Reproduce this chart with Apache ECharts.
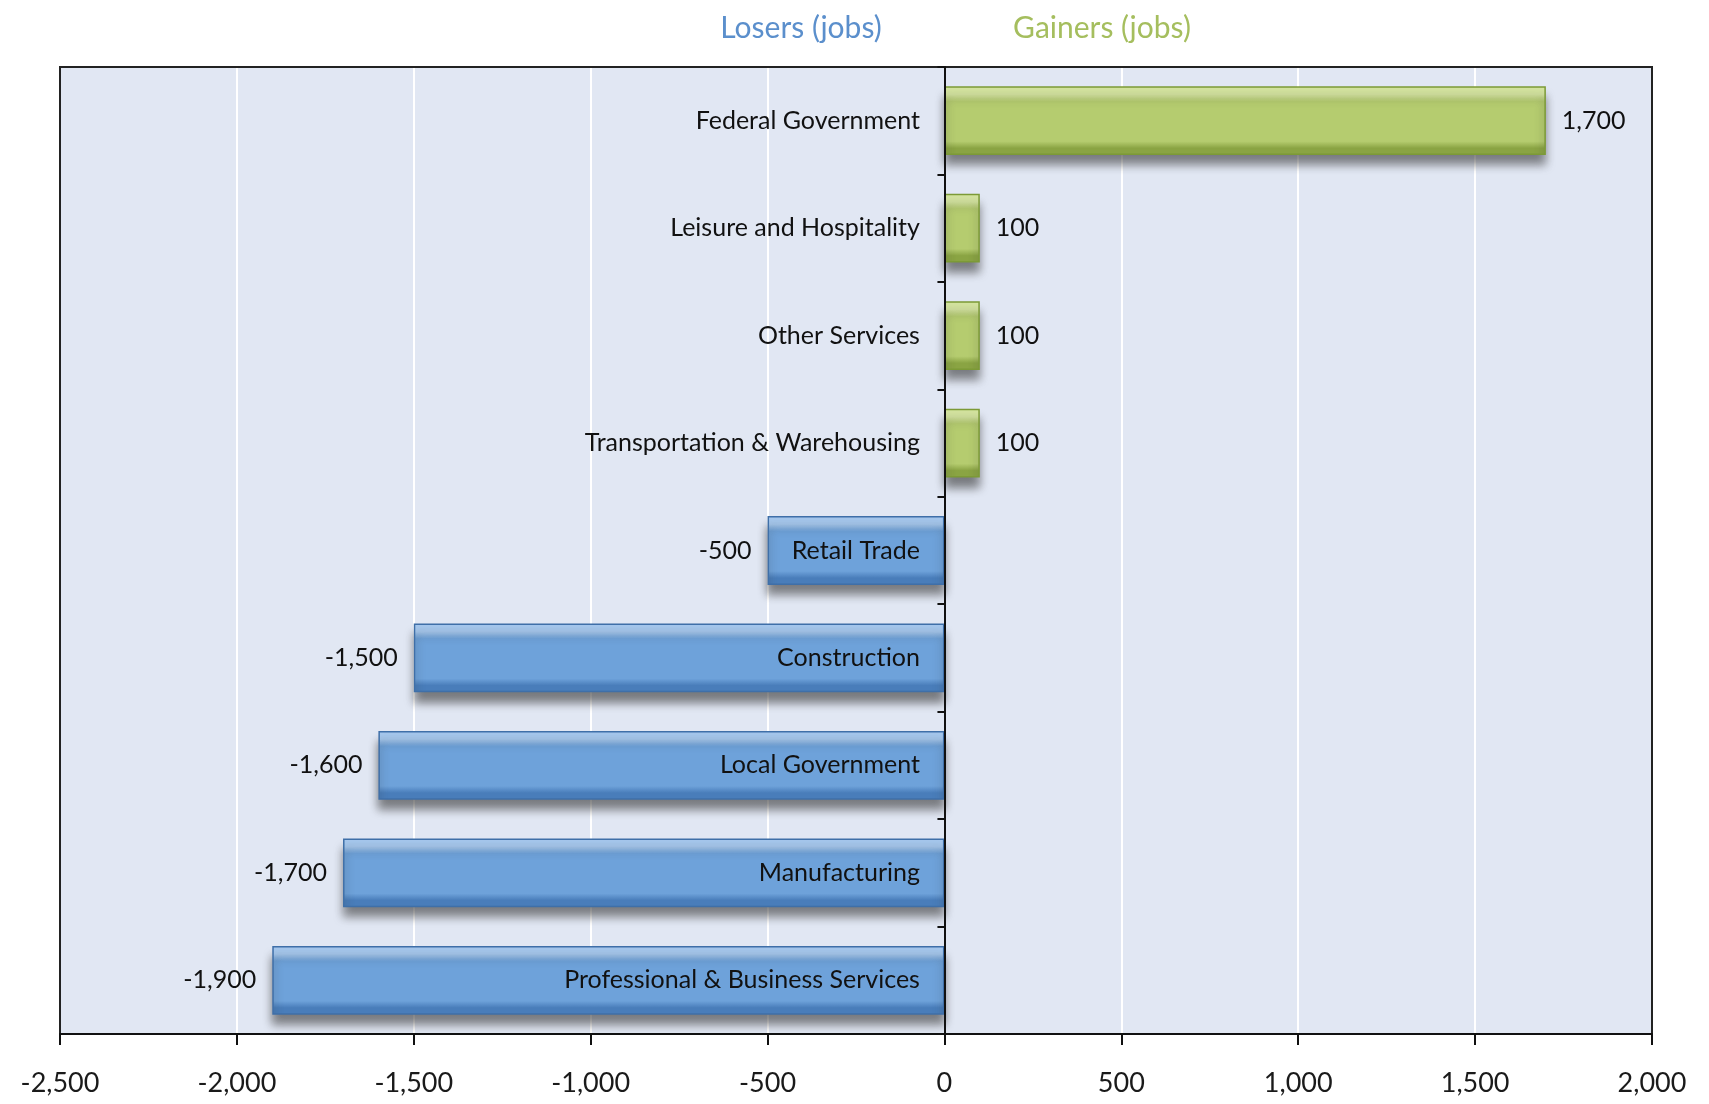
<!DOCTYPE html>
<html>
<head>
<meta charset="utf-8">
<script src="https://cdn.jsdelivr.net/npm/echarts@6/dist/echarts.min.js"></script>
<style>
html,body{margin:0;padding:0;background:#fff;}
#chart{width:1709px;height:1104px;}
</style>
</head>
<body>
<div id="chart"></div>
<script>
const categories = ["Federal Government","Leisure and Hospitality","Other Services","Transportation & Warehousing","Retail Trade","Construction","Local Government","Manufacturing","Professional & Business Services"];
const values = [1700, 100, 100, 100, -500, -1500, -1600, -1700, -1900];
const xTicks = {min: -2500, max: 2000, interval: 500};
const headerLosers = "Losers (jobs)";
const headerGainers = "Gainers (jobs)";

const FONT = 'Lato, "Open Sans", sans-serif';
const fmt = v => Number(v).toLocaleString('en-US');

function grad(top, mid, bottom) {
  return new echarts.graphic.LinearGradient(0, 0, 0, 1, [
    {offset: 0, color: top},
    {offset: 0.12, color: top},
    {offset: 0.22, color: mid},
    {offset: 0.8, color: mid},
    {offset: 0.9, color: bottom},
    {offset: 1, color: bottom}
  ]);
}
const greenStyle = {
  color: grad('#D5E5A0', '#B5CC6F', '#8AA443'),
  borderColor: '#7C9A36', borderWidth: 1.5,
  shadowColor: 'rgba(50,50,50,0.6)', shadowBlur: 9, shadowOffsetY: 10, shadowOffsetX: 0
};
const blueStyle = {
  color: grad('#A6C8EE', '#6EA2DA', '#497DBA'),
  borderColor: '#3F6FA8', borderWidth: 1.5,
  shadowColor: 'rgba(50,50,50,0.6)', shadowBlur: 9, shadowOffsetY: 10, shadowOffsetX: 0
};

const seriesData = values.map(v => ({
  value: v,
  itemStyle: v >= 0 ? greenStyle : blueStyle,
  label: {position: v >= 0 ? 'right' : 'left'}
}));
const nameData = categories.map(c => [0, c]);

const borderAxis = {
  axisLine: {show: true, onZero: false, lineStyle: {color: '#222', width: 2}},
  axisTick: {show: false}, axisLabel: {show: false}, splitLine: {show: false}
};

const chart = echarts.init(document.getElementById('chart'), null, {renderer: 'canvas'});
chart.setOption({
  animation: false,
  backgroundColor: '#ffffff',
  textStyle: {fontFamily: FONT},
  title: [
    {text: headerLosers, left: 796, top: 8, textAlign: 'center',
     textStyle: {color: '#5B8FCC', fontSize: 30, fontWeight: 'normal', fontFamily: FONT}},
    {text: headerGainers, left: 1097, top: 8, textAlign: 'center',
     textStyle: {color: '#A5BE5E', fontSize: 30, fontWeight: 'normal', fontFamily: FONT}}
  ],
  grid: {
    left: 60, right: 57, top: 67, bottom: 70,
    containLabel: false, outerBoundsMode: 'none',
    show: true, backgroundColor: '#E1E7F3', borderColor: '#222', borderWidth: 2
  },
  xAxis: [{
    type: 'value', min: xTicks.min, max: xTicks.max, interval: xTicks.interval,
    axisLine: {show: true, onZero: false, lineStyle: {color: '#111', width: 2}},
    axisTick: {show: true, length: 11, lineStyle: {color: '#111', width: 2}},
    splitLine: {show: true, showMinLine: false, showMaxLine: false, lineStyle: {color: '#ffffff', width: 2}},
    axisLabel: {margin: 36, fontSize: 27, color: '#1a1a1a', fontFamily: FONT, formatter: fmt}
  }, Object.assign({type: 'value', position: 'top', min: xTicks.min, max: xTicks.max}, borderAxis)],
  yAxis: [{
    type: 'category', data: categories, inverse: true, z: 10,
    axisLine: {show: true, onZero: true, lineStyle: {color: '#111', width: 2}},
    axisTick: {show: true, length: 7, lineStyle: {color: '#111', width: 2}},
    axisLabel: {show: false}
  },
  Object.assign({type: 'category', data: categories, inverse: true, position: 'left'}, borderAxis),
  Object.assign({type: 'category', data: categories, inverse: true, position: 'right'}, borderAxis)],
  series: [{
    type: 'bar',
    data: seriesData,
    barCategoryGap: '36%',
    label: {
      show: true, distance: 16, fontSize: 25, color: '#111', fontFamily: FONT,
      formatter: p => fmt(p.value)
    }
  }, {
    type: 'scatter',
    data: nameData,
    symbol: 'rect', symbolSize: 1,
    itemStyle: {color: 'rgba(0,0,0,0)', opacity: 1},
    z: 20, silent: true,
    label: {
      show: true, position: 'left', distance: 24, fontSize: 25, color: '#111', fontFamily: FONT,
      formatter: p => p.value[1]
    }
  }]
});
</script>
</body>
</html>
